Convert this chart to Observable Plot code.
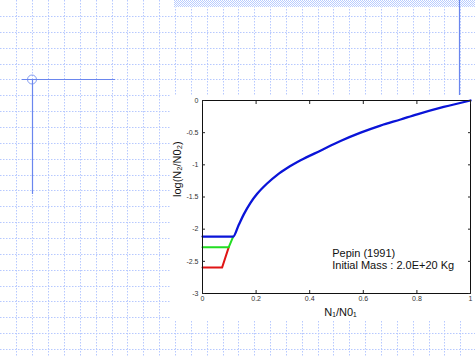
<!DOCTYPE html>
<html>
<head>
<meta charset="utf-8">
<script src="https://cdn.jsdelivr.net/npm/d3@7"></script>
<script src="https://cdn.jsdelivr.net/npm/@observablehq/plot@0.6"></script>
<style>
  html, body { margin: 0; padding: 0; background: #fff; }
  #wrap { position: relative; width: 475px; height: 356px; overflow: hidden; }
  #deco { position: absolute; left: 0; top: 0; }
  #panel { position: absolute; left: 170px; top: 95px; width: 305px; height: 225px; background: #fff; }
  #chart { position: absolute; left: 0; top: 0; }
</style>
</head>
<body>
<div id="wrap">
  <svg id="deco" width="475" height="356"></svg>
  <div id="panel"></div>
  <div id="chart"></div>
</div>
<script>
// ---- data ----
const xTicks = [0, 0.2, 0.4, 0.6, 0.8, 1];
const xTickLabels = ["0", "0.2", "0.4", "0.6", "0.8", "1"];
const yTicks = [0, -0.5, -1, -1.5, -2, -2.5, -3];
const yTickLabels = ["0", "-0.5", "-1", "-1.5", "-2", "-2.5", "-3"];

const xLabel = "N\u2081/N0\u2081";
const yLabel = "log(N\u2082/N0\u2082)";

const blueX = [0, 0.1145, 0.135, 0.154, 0.179, 0.204, 0.241, 0.279, 0.316, 0.366, 0.44, 0.515, 0.59, 0.664, 0.739, 0.801, 0.9, 1.0];
const blueY = [-2.115, -2.115, -1.935, -1.77, -1.59, -1.45, -1.29, -1.155, -1.05, -0.93, -0.78, -0.63, -0.5, -0.39, -0.295, -0.215, -0.1, 0];
const greenX = [0, 0.098, 0.1145];
const greenY = [-2.28, -2.28, -2.115];
const redX = [0, 0.073, 0.098];
const redY = [-2.597, -2.597, -2.28];

const noteLines = ["Pepin (1991)", "Initial Mass : 2.0E+20 Kg"];
const noteX = [0.484, 0.484];
const noteY = [-2.375, -2.57];

// ---- background decoration (graph paper) ----
const deco = d3.select("#deco");
const gridColor = "#b7c9ff";
const step = 15.85;
for (let i = 1; i * step < 475; i++) {
  const x = Math.round(0.6 + i * step) + 0.5;
  deco.append("line").attr("x1", x).attr("x2", x).attr("y1", 0).attr("y2", 356)
    .attr("stroke", gridColor).attr("stroke-dasharray", "1.5 1.5");
}
for (let i = 1; i * step < 356; i++) {
  const y = Math.round(0.2 + i * step) + 0.5;
  deco.append("line").attr("y1", y).attr("y2", y).attr("x1", 0).attr("x2", 475)
    .attr("stroke", gridColor).attr("stroke-dasharray", "1.5 1.5");
}
const defs = deco.append("defs");
const pat = defs.append("pattern").attr("id", "chk").attr("patternUnits", "userSpaceOnUse")
  .attr("width", 2).attr("height", 2);
pat.append("rect").attr("width", 2).attr("height", 2).attr("fill", "#fff");
pat.append("rect").attr("width", 1).attr("height", 1).attr("fill", "#b9ccff");
pat.append("rect").attr("x", 1).attr("y", 1).attr("width", 1).attr("height", 1).attr("fill", "#b9ccff");
deco.append("rect").attr("x", 174).attr("y", 0).attr("width", 301).attr("height", 7).attr("fill", "url(#chk)");
const lineBlue = "#6a86ee";
deco.append("line").attr("x1", 22).attr("x2", 115).attr("y1", 79.5).attr("y2", 79.5).attr("stroke", lineBlue).attr("stroke-width", 1.2);
deco.append("line").attr("x1", 32.5).attr("x2", 32.5).attr("y1", 79).attr("y2", 194).attr("stroke", lineBlue).attr("stroke-width", 1.2);
deco.append("circle").attr("cx", 32).attr("cy", 79.5).attr("r", 4.5).attr("fill", "none").attr("stroke", lineBlue).attr("stroke-width", 0.8);
deco.append("line").attr("x1", 459.5).attr("x2", 459.5).attr("y1", 0).attr("y2", 95).attr("stroke", lineBlue).attr("stroke-width", 1.2);

// ---- chart ----
const series = (xs, ys) => xs.map((x, i) => ({x, y: ys[i]}));
const fmt = (ticks, labels) => d => labels[ticks.indexOf(d)];

const chart = Plot.plot({
  width: 475,
  height: 356,
  marginLeft: 202,
  marginRight: 5,
  marginTop: 100,
  marginBottom: 63,
  style: {background: "transparent", fontFamily: "'Liberation Sans', Arial, sans-serif", color: "#222"},
  x: {domain: [0, 1]},
  y: {domain: [-3, 0]},
  marks: [
    Plot.line(series(redX, redY), {x: "x", y: "y", stroke: "#e01515", strokeWidth: 2}),
    Plot.line(series(greenX, greenY), {x: "x", y: "y", stroke: "#22dd22", strokeWidth: 2}),
    Plot.line(series(blueX, blueY), {x: "x", y: "y", stroke: "#0a14d8", strokeWidth: 2.3, curve: "monotone-x"}),
    Plot.frame({stroke: "#111", strokeWidth: 1}),
    Plot.axisX(xTicks, {anchor: "bottom", tickSize: -3, tickPadding: 6, tickFormat: fmt(xTicks, xTickLabels), label: null, fontSize: 7, fill: "#333"}),
    Plot.axisX(xTicks, {anchor: "top", tickSize: -3, tickFormat: () => "", label: null}),
    Plot.axisY(yTicks, {anchor: "left", tickSize: -3, tickPadding: 7, tickFormat: fmt(yTicks, yTickLabels), label: null, fontSize: 7, fill: "#333"}),
    Plot.axisY(yTicks, {anchor: "right", tickSize: -3, tickFormat: () => "", label: null}),
    Plot.text([xLabel], {frameAnchor: "bottom", dy: 22, dx: 4, fontSize: 11, fill: "#111"}),
    Plot.text([yLabel], {frameAnchor: "left", rotate: -90, dx: -25, fontSize: 11, fill: "#111"}),
    Plot.text(noteLines, {x: (d, i) => noteX[i], y: (d, i) => noteY[i], text: d => d, textAnchor: "start", fontSize: 11, fill: "#111"})
  ]
});
document.getElementById("chart").appendChild(chart);
</script>
</body>
</html>
